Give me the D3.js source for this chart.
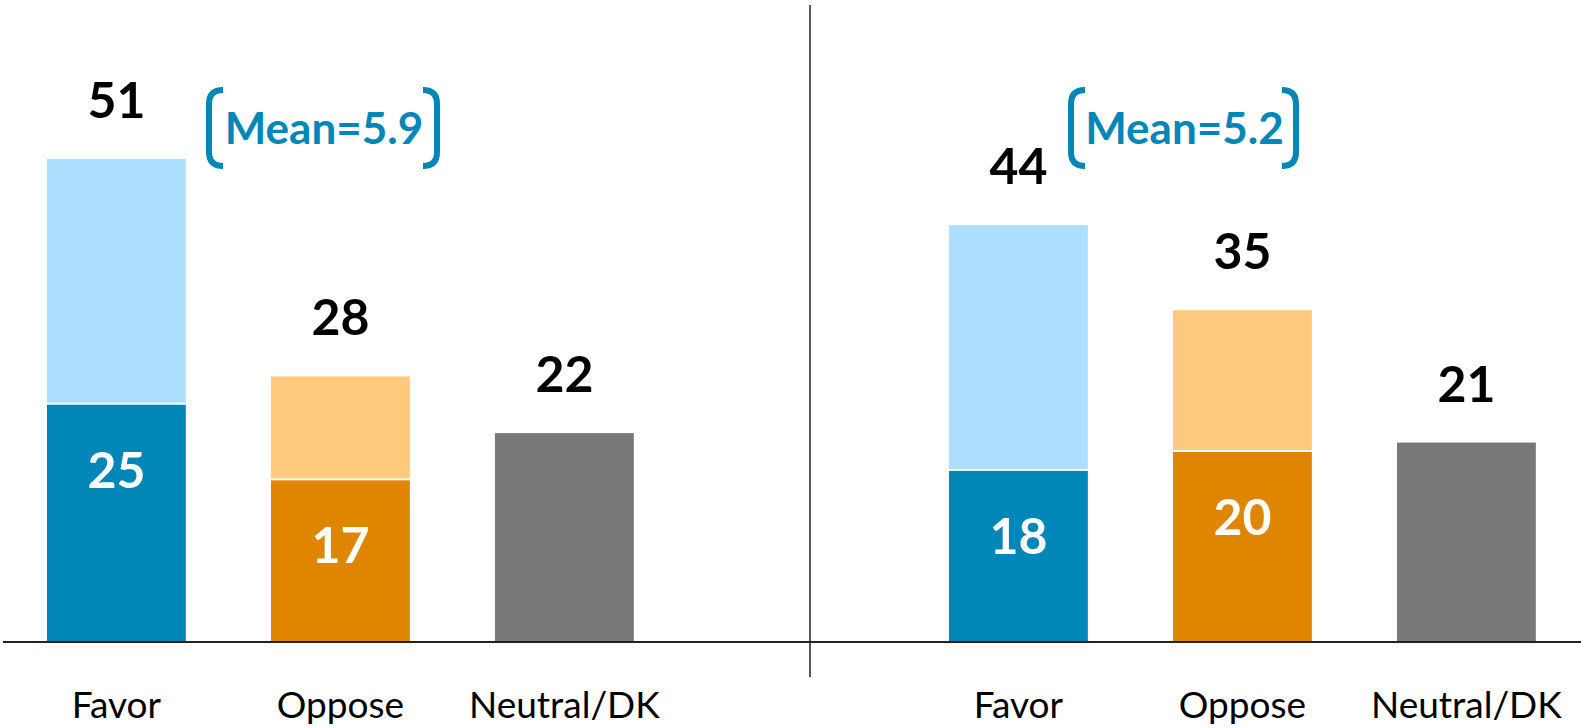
<!DOCTYPE html>
<html>
<head>
<meta charset="utf-8">
<script src="https://cdn.jsdelivr.net/npm/d3@7"></script>
<style>
  body { margin: 0; background: #fff; }
  svg { display: block; }
  text { font-family: Lato, "Open Sans", sans-serif; }
</style>
</head>
<body>
<svg id="chart" width="1581" height="728"></svg>
<script>
// data
var categories = ['Favor', 'Oppose', 'Neutral/DK']
var leftStrong = [25, 17, null]
var leftTotal = [51, 28, 22]
var rightStrong = [18, 20, null]
var rightTotal = [44, 35, 21]
var means = ['Mean=5.9', 'Mean=5.2']

var darkColors = ['#0087b8', '#df8500', '#787878']
var lightColors = ['#aedefd', '#fdc97c', '#787878']

var W = 1581, H = 728
var svg = d3.select('#chart')
var baseY = 641

var y = d3.scaleLinear().domain([0, 60]).range([baseY, baseY - 60 * 9.45])

var panels = [
  { range: [4.4, 676.4], strong: leftStrong, total: leftTotal, mean: means[0], bracket: [209, 437], meanY: 128 },
  { range: [906.4, 1578.4], strong: rightStrong, total: rightTotal, mean: means[1], bracket: [1071, 1296], meanY: 128 }
]

panels.forEach(function (p) {
  var x = d3.scaleBand().domain(categories).range(p.range).paddingInner(0.38).paddingOuter(0.19)
  var g = svg.append('g')
  var rows = categories.map(function (c, i) {
    return { cat: c, i: i, strong: p.strong[i], total: p.total[i] }
  })

  // light (total) part
  g.selectAll('rect.total').data(rows).enter().append('rect')
    .attr('class', 'total')
    .attr('x', d => x(d.cat))
    .attr('width', x.bandwidth())
    .attr('y', d => y(d.total))
    .attr('height', d => d.strong == null ? y(0) - y(d.total) : y(d.strong) - y(d.total) - 2)
    .attr('fill', d => d.strong == null ? darkColors[d.i] : lightColors[d.i])

  // strong part
  var strongRows = rows.filter(d => d.strong != null)
  g.selectAll('rect.strong').data(strongRows).enter().append('rect')
    .attr('class', 'strong')
    .attr('x', d => x(d.cat))
    .attr('width', x.bandwidth())
    .attr('y', d => y(d.strong))
    .attr('height', d => y(0) - y(d.strong))
    .attr('fill', d => darkColors[d.i])

  // total labels
  g.selectAll('text.tot').data(rows).enter().append('text')
    .attr('x', d => x(d.cat) + x.bandwidth() / 2)
    .attr('y', d => y(d.total) - 41)
    .attr('text-anchor', 'middle')
    .attr('font-size', 50).attr('font-weight', 'bold').attr('fill', '#000')
    .text(d => d.total)

  // strong labels
  g.selectAll('text.str').data(strongRows).enter().append('text')
    .attr('x', d => x(d.cat) + x.bandwidth() / 2)
    .attr('y', d => y(d.strong) + 83)
    .attr('text-anchor', 'middle')
    .attr('font-size', 50).attr('font-weight', 'bold').attr('fill', '#fff')
    .text(d => d.strong)

  // category labels
  g.selectAll('text.cat').data(rows).enter().append('text')
    .attr('x', d => x(d.cat) + x.bandwidth() / 2)
    .attr('y', 718)
    .attr('text-anchor', 'middle')
    .attr('font-size', 37).attr('fill', '#000')
    .text(d => d.cat)

  // mean bracket
  var bx0 = p.bracket[0], bx1 = p.bracket[1], top = p.meanY - 38, bot = p.meanY + 38
  var blue = '#0087b8'
  g.append('path')
    .attr('d', 'M' + (bx0 + 14) + ',' + top + ' Q' + bx0 + ',' + top + ' ' + bx0 + ',' + (top + 14) +
      ' L' + bx0 + ',' + (bot - 14) + ' Q' + bx0 + ',' + bot + ' ' + (bx0 + 14) + ',' + bot)
    .attr('fill', 'none').attr('stroke', blue).attr('stroke-width', 6)
  g.append('path')
    .attr('d', 'M' + (bx1 - 14) + ',' + top + ' Q' + bx1 + ',' + top + ' ' + bx1 + ',' + (top + 14) +
      ' L' + bx1 + ',' + (bot - 14) + ' Q' + bx1 + ',' + bot + ' ' + (bx1 - 14) + ',' + bot)
    .attr('fill', 'none').attr('stroke', blue).attr('stroke-width', 6)
  g.append('text')
    .attr('x', (bx0 + bx1) / 2 + 1)
    .attr('y', p.meanY + 16)
    .attr('text-anchor', 'middle')
    .attr('font-size', 44).attr('font-weight', 'bold').attr('fill', blue)
    .text(p.mean)
})

// baseline and divider
svg.append('line').attr('x1', 3).attr('x2', W).attr('y1', baseY + 1).attr('y2', baseY + 1)
  .attr('stroke', '#222').attr('stroke-width', 2)
svg.append('line').attr('x1', 810).attr('x2', 810).attr('y1', 5).attr('y2', 677)
  .attr('stroke', '#222').attr('stroke-width', 1.5)
</script>
</body>
</html>
